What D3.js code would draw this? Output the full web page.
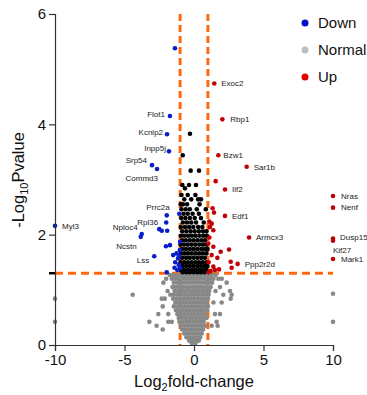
<!DOCTYPE html>
<html>
<head>
<meta charset="utf-8">
<script src="https://cdn.jsdelivr.net/npm/d3@7"></script>
<style>
  body { margin: 0; background: #fff; }
  svg { font-family: Arial, "Liberation Sans", sans-serif; }
</style>
</head>
<body>
<div id="chart"></div>
<script>
// -log10 p cut-off and fold-change cut-off
const pCut = 1.301;
const fcCut = 1;

const xTicks = [-10, -5, 0, 5, 10];
const yTicks = [0, 2, 4, 6];
const legendItems = ['Down', 'Normal', 'Up'];

// down-regulated genes [log2FC, -log10P, label]
const downPoints = [
  [-1.37, 5.38, ''], [-1.73, 4.15, 'Flot1'], [-1.94, 3.82, 'Kcnip2'], [-1.80, 3.51, 'Inpp5j'],
  [-3.02, 3.26, 'Srp54'], [-2.66, 3.19, 'Commd3'], [-1.96, 2.35, 'Prrc2a'], [-2.00, 2.22, 'Rpl36'],
  [-3.76, 2.01, 'Nploc4'], [-3.83, 1.96, 'Ncstn'], [-2.86, 1.61, 'Lss'], [-10, 2.16, 'Myl3'],
  [-1.06, 2.38, ''], [-2.50, 2.10, ''], [-2.32, 2.07, ''], [-1.93, 2.07, ''], [-2.02, 1.79, ''],
  [-1.73, 1.81, ''], [-1.00, 1.87, ''], [-1.02, 1.72, ''], [-1.26, 1.66, ''], [-1.50, 1.63, ''],
  [-1.15, 1.57, ''], [-1.35, 1.50, ''], [-1.10, 1.45, ''], [-1.00, 1.40, ''], [-1.96, 1.32, ''],
  [-1.20, 1.36, ''], [-1.40, 1.40, ''], [-1.05, 1.62, '']
];

// up-regulated genes
const upPoints = [
  [1.46, 4.74, 'Exoc2'], [2.04, 4.09, 'Rbp1'], [1.75, 3.44, 'Bzw1'], [3.79, 3.23, 'Sar1b'],
  [2.23, 2.82, 'Ilf2'], [10, 2.70, 'Nras'], [10, 2.49, 'Nenf'], [2.23, 2.34, 'Edf1'],
  [3.96, 1.95, 'Armcx3'], [10, 1.93, 'Dusp15'], [10, 1.89, 'Kif27'], [10, 1.56, 'Mark1'],
  [3.14, 1.47, 'Ppp2r2d'],
  [1.56, 2.97, ''], [1.34, 2.48, ''], [1.44, 2.40, ''], [1.10, 2.24, ''], [1.27, 2.20, ''],
  [1.15, 2.14, ''], [1.39, 2.08, ''], [1.03, 1.84, ''], [1.39, 1.78, ''], [1.92, 1.69, ''],
  [2.52, 1.73, ''], [1.68, 1.58, ''], [2.64, 1.51, ''], [2.71, 1.40, ''], [1.39, 1.42, ''],
  [1.51, 1.36, ''], [1.80, 1.37, ''], [1.20, 1.34, ''], [1.27, 1.63, ''], [1.05, 1.50, ''],
  [1.10, 1.95, ''], [1.05, 1.32, '']
];

// significant p but small fold change: rows of [-log10P, [log2FC...]]
const sigRows = [
  [3.83, [-0.29]], [3.44, [-0.81]], [3.16, [-0.24, 0.36]], [2.90, [-0.84, -0.36, 0.14]],
  [2.84, [-0.65]], [2.72, [-0.9, -0.45, 0.1]], [2.64, [-0.7, -0.2, 0.3, 0.5]],
  [2.55, [-0.95, -0.8, -0.5, 0.4]], [2.46, [-0.9, -0.6, -0.3, 0.2, 0.85]],
  [2.38, [-0.75, -0.45, -0.1, 0.35]], [2.30, [-0.92, -0.62, -0.3, 0.05, 0.5]],
  [2.22, [-0.8, -0.5, -0.2, 0.15, 0.7]], [2.14, [-0.95, -0.65, -0.35, -0.05, 0.3, 0.6]],
  [2.06, [-0.85, -0.55, -0.25, 0.05, 0.35, 0.65, 0.9]],
  [1.98, [-0.95, -0.7, -0.42, -0.15, 0.12, 0.4, 0.68, 0.92]],
  [1.90, [-0.85, -0.58, -0.3, -0.02, 0.26, 0.54, 0.8]],
  [1.82, [-0.97, -0.72, -0.45, -0.17, 0.1, 0.38, 0.65, 0.9]],
  [1.74, [-0.85, -0.58, -0.3, -0.03, 0.24, 0.52, 0.78, 0.97]],
  [1.66, [-0.95, -0.7, -0.44, -0.16, 0.1, 0.37, 0.64, 0.9]],
  [1.58, [-0.84, -0.57, -0.3, -0.02, 0.25, 0.52, 0.78]],
  [1.50, [-0.96, -0.7, -0.44, -0.17, 0.1, 0.36, 0.63, 0.9]],
  [1.43, [-0.84, -0.57, -0.3, -0.03, 0.24, 0.5, 0.77, 0.97]],
  [1.36, [-0.95, -0.7, -0.43, -0.16, 0.1, 0.37, 0.63, 0.88]],
  [1.32, [-0.82, -0.56, -0.3, -0.03, 0.24, 0.5, 0.76]]
];

// not significant
const normalRows = [
  [1.27, [-1.75, -1.5, -1.25, -1.0, -0.75, -0.5, -0.25, 0, 0.25, 0.5, 0.75, 1.0, 1.25, 1.55]],
  [1.20, [-2.0, -1.6, -1.35, -1.1, -0.85, -0.6, -0.35, -0.1, 0.15, 0.4, 0.65, 0.9, 1.15, 1.4, 1.75, 2.0]],
  [1.13, [-2.2, -1.45, -1.2, -0.95, -0.7, -0.45, -0.2, 0.05, 0.3, 0.55, 0.8, 1.05, 1.3, 2.35]],
  [1.05, [-1.55, -1.3, -1.05, -0.8, -0.55, -0.3, -0.05, 0.2, 0.45, 0.7, 0.95, 1.2, 1.87]],
  [0.98, [-1.9, -1.4, -1.15, -0.9, -0.65, -0.4, -0.15, 0.1, 0.35, 0.6, 0.85, 1.1, 1.55, 2.59]],
  [0.91, [-4.41, -1.7, -1.45, -1.2, -0.95, -0.7, -0.45, -0.2, 0.05, 0.3, 0.55, 0.8, 1.05, 2.11, 2.71]],
  [0.84, [-10, -2.32, -2.1, -1.5, -1.25, -1.0, -0.75, -0.5, -0.25, 0, 0.25, 0.5, 0.75, 1.0, 2.64]],
  [0.77, [-1.35, -1.1, -0.85, -0.6, -0.35, -0.1, 0.15, 0.4, 0.65, 0.9, 1.4, 1.99]],
  [0.70, [-2.25, -1.45, -1.2, -0.95, -0.7, -0.45, -0.2, 0.05, 0.3, 0.55, 0.8, 1.0]],
  [0.63, [-1.3, -1.05, -0.8, -0.55, -0.3, -0.05, 0.2, 0.45, 0.7, 0.95]],
  [0.56, [-2.57, -1.85, -1.2, -0.95, -0.7, -0.45, -0.2, 0.05, 0.3, 0.55, 0.8, 1.51, 1.87]],
  [0.49, [-1.1, -0.85, -0.6, -0.35, -0.1, 0.15, 0.4, 0.65, 0.9]],
  [0.42, [-10, -3.21, -1.85, -1.6, -1.05, -0.8, -0.55, -0.3, -0.05, 0.2, 0.45, 0.7, 1.63, 10]],
  [0.35, [-2.69, -0.95, -0.7, -0.45, -0.2, 0.05, 0.3, 0.55, 0.8, 1.27, 1.7]],
  [0.28, [-2.25, -0.85, -0.6, -0.35, -0.1, 0.15, 0.4, 0.65]],
  [0.21, [-0.7, -0.45, -0.2, 0.05, 0.3, 0.55]],
  [0.14, [-0.55, -0.3, -0.05, 0.2, 0.45]],
  [0.08, [-0.35, -0.1, 0.15, 0.35]],
  [0.03, [-0.15, 0.1]],
  [0.93, [10]]
];

// label placement [dx, dy, anchor] relative to the point
const labelPlace = {
  Flot1: [-5, -2, 'end'], Kcnip2: [-4, -2, 'end'], Inpp5j: [-3, -3, 'end'],
  Srp54: [-5, -5, 'end'], Commd3: [1, 9, 'end'], Prrc2a: [3, -8, 'end'],
  Rpl36: [-8, 0, 'end'], Nploc4: [-4, -7, 'end'], Ncstn: [-4, 9, 'end'],
  Lss: [-5, 4, 'end'], Myl3: [7, 0, 'start'],
  Exoc2: [7, 0, 'start'], Rbp1: [8, 0, 'start'], Bzw1: [5, 0, 'start'],
  Sar1b: [7, 0, 'start'], Ilf2: [7, 0, 'start'], Nras: [8, 0, 'start'],
  Nenf: [8, 0, 'start'], Edf1: [7, 0, 'start'], Armcx3: [7, 0, 'start'],
  Dusp15: [7, -1, 'start'], Kif27: [0, 9, 'start'], Mark1: [8, 0, 'start'],
  Ppp2r2d: [7, 0, 'start']
};

const colors = { Down: '#0a1ec8', Normal: '#888888', Up: '#c00008', Sig: '#000000' };
const legendColors = { Down: '#0010c8', Normal: '#bdbdbd', Up: '#e00000' };

const width = 367, height = 395;
const x = d3.scaleLinear().domain([-10, 10]).range([55, 333]);
const y = d3.scaleLinear().domain([0, 6]).range([345, 14]);

const svg = d3.select('#chart').append('svg')
  .attr('width', width)
  .attr('height', height);

// threshold lines
const dash = svg.append('g')
  .attr('stroke', '#ff6a10')
  .attr('stroke-width', 3)
  .attr('stroke-dasharray', '7,4')
  .attr('fill', 'none');
[-fcCut, fcCut].forEach(v => {
  dash.append('line')
    .attr('x1', x(v)).attr('x2', x(v))
    .attr('y1', y(6)).attr('y2', y(0));
});
dash.append('line')
  .attr('x1', x(-10)).attr('x2', x(10))
  .attr('y1', y(pCut)).attr('y2', y(pCut))
  .attr('stroke-dasharray', '8,5');

const rowsToPoints = rows => rows.flatMap(r => r[1].map(fc => [fc, r[0]]));
const r = 2.3;

function dots(data, color) {
  svg.append('g').selectAll('circle')
    .data(data)
    .enter().append('circle')
    .attr('cx', d => x(d[0]))
    .attr('cy', d => y(d[1]))
    .attr('r', r)
    .attr('fill', color);
}

dots(rowsToPoints(normalRows), colors.Normal);
dots(rowsToPoints(sigRows), colors.Sig);
dots(downPoints, colors.Down);
dots(upPoints, colors.Up);

// gene labels
svg.append('g').selectAll('text')
  .data(downPoints.concat(upPoints).filter(d => d[2] !== ''))
  .enter().append('text')
  .attr('x', d => x(d[0]) + labelPlace[d[2]][0])
  .attr('y', d => y(d[1]) + labelPlace[d[2]][1])
  .attr('dy', '0.35em')
  .attr('text-anchor', d => labelPlace[d[2]][2])
  .attr('font-size', 8)
  .attr('fill', '#222')
  .text(d => d[2]);

// axes
const xAxis = d3.axisBottom(x).tickValues(xTicks).tickSize(6).tickFormat(d3.format('d'));
const yAxis = d3.axisLeft(y).tickValues(yTicks).tickSize(6).tickFormat(d3.format('d'));

const gx = svg.append('g')
  .attr('transform', 'translate(0,' + y(0) + ')')
  .call(xAxis);
const gy = svg.append('g')
  .attr('transform', 'translate(' + x(-10) + ',0)')
  .call(yAxis);

[gx, gy].forEach(g => {
  g.select('.domain').attr('stroke', '#333').attr('stroke-width', 1.2);
  g.selectAll('.tick line').attr('stroke', '#333').attr('stroke-width', 1.2);
  g.selectAll('.tick text')
    .attr('font-size', 15)
    .attr('font-family', 'Arial, "Liberation Sans", sans-serif')
    .attr('fill', '#111');
});
gx.selectAll('.tick text').text(d => d < 0 ? '-' + Math.abs(d) : d);

// black mark at the p cut-off on the y axis
svg.append('line')
  .attr('x1', x(-10) - 6).attr('x2', x(-10))
  .attr('y1', y(pCut)).attr('y2', y(pCut))
  .attr('stroke', '#000')
  .attr('stroke-width', 2.5);

// axis titles
const xt = svg.append('text')
  .attr('x', x(0))
  .attr('y', 387)
  .attr('text-anchor', 'middle')
  .attr('font-size', 16.5)
  .attr('fill', '#111');
xt.append('tspan').text('Log');
xt.append('tspan').attr('font-size', 11).attr('dy', 4).text('2');
xt.append('tspan').attr('dy', -4).text('fold-change');

const yt = svg.append('text')
  .attr('transform', 'translate(24,' + 180 + ') rotate(-90)')
  .attr('text-anchor', 'middle')
  .attr('font-size', 16.5)
  .attr('fill', '#111');
yt.append('tspan').text('-Log');
yt.append('tspan').attr('font-size', 11).attr('dy', 4).text('10');
yt.append('tspan').attr('dy', -4).text('Pvalue');

// legend
const legend = svg.append('g');
legendItems.forEach((name, i) => {
  const ly = 23 + i * 27;
  legend.append('circle')
    .attr('cx', 305).attr('cy', ly).attr('r', 3.5)
    .attr('fill', legendColors[name]);
  legend.append('text')
    .attr('x', 318).attr('y', ly)
    .attr('dy', '0.35em')
    .attr('font-size', 15)
    .attr('fill', '#111')
    .text(name);
});
</script>
</body>
</html>
